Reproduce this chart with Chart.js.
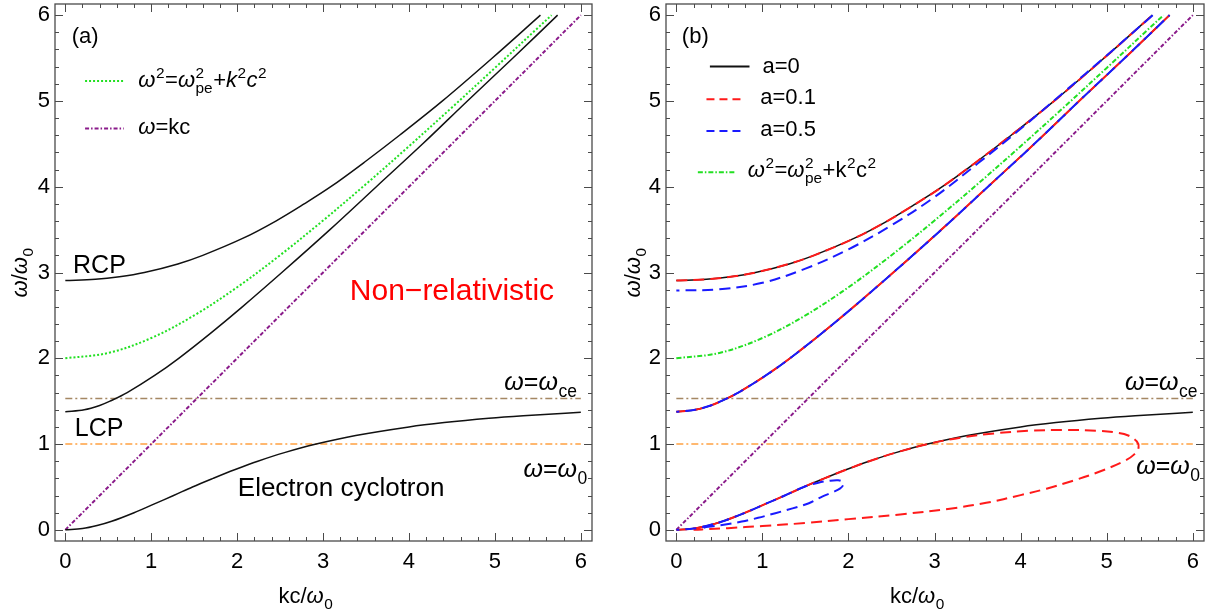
<!DOCTYPE html>
<html>
<head>
<meta charset="utf-8">
<script src="https://cdn.jsdelivr.net/npm/chart.js@4.4.1/dist/chart.umd.min.js"></script>
<style>
html, body { margin: 0; padding: 0; background: #fff; }
#wrap { position: relative; width: 1214px; height: 613px; }
canvas { position: absolute; top: 0; }
#chartA { left: 0; }
#chartB { left: 607px; }
</style>
</head>
<body>
<div id="wrap">
  <canvas id="chartA" width="607" height="613"></canvas>
  <canvas id="chartB" width="607" height="613"></canvas>
</div>
<script>
// tick labels
const xTicks = [0, 1, 2, 3, 4, 5, 6];
const yTicks = [0, 1, 2, 3, 4, 5, 6];

// a = 0 (non-relativistic) branches: k = kc/w0, w = w/w0
const rcpK = [0, 0.35, 0.63, 0.92, 1.31, 1.6, 2.07, 2.45, 2.78, 3.09, 3.5, 3.89, 4.39, 4.97, 5.53];
const rcpW = [2.906, 2.92, 2.95, 3.0, 3.1, 3.2, 3.4, 3.6, 3.8, 4.0, 4.3, 4.6, 5.0, 5.5, 6.0];
const lcpK = [0, 0.22, 0.4, 0.52, 0.72, 1.04, 1.32, 1.7, 2.06, 2.52, 3.08, 3.62, 4.16, 4.68, 5.21, 5.73];
const lcpW = [1.376, 1.4, 1.45, 1.5, 1.6, 1.8, 2.0, 2.3, 2.6, 3.0, 3.5, 4.0, 4.5, 5.0, 5.5, 6.0];
const ecK = [0, 0.2, 0.37, 0.54, 0.8, 1.03, 1.26, 1.48, 1.72, 1.97, 2.24, 2.55, 2.92, 3.38, 4.0, 4.41, 4.93, 5.33, 5.82, 6.0];
const ecW = [0, 0.015, 0.05, 0.1, 0.2, 0.3, 0.4, 0.5, 0.6, 0.7, 0.8, 0.9, 1.0, 1.1, 1.2, 1.25, 1.3, 1.33, 1.36, 1.37];

// w^2 = wpe^2 + k^2c^2
const vacK = [0, 0.5, 1, 1.5, 2, 2.5, 3, 3.5, 4, 4.5, 5, 5.5, 5.66];
const vacW = [2, 2.062, 2.236, 2.5, 2.828, 3.202, 3.606, 4.031, 4.472, 4.924, 5.385, 5.852, 6];

// w = kc
const lightK = [0, 6];
const lightW = [0, 6];

// w = wce and w = w0
const hK = [0, 6];
const wceW = [1.53, 1.53];
const w0W = [1, 1];

// a = 0.1 whistler loop
const red1K = [0, 0.2, 0.37, 0.54, 0.8, 1.03, 1.26, 1.48, 1.72, 1.97, 2.24, 2.55, 2.92, 3.3, 3.7, 4.1, 4.5, 4.9, 5.1, 5.25, 5.35, 5.37, 5.32, 5.2, 4.92, 4.6, 4.3, 4.0, 3.6, 3.2, 2.6, 2.0, 1.5, 1.0, 0.6, 0.3, 0.2];
const red1W = [0, 0.015, 0.05, 0.1, 0.2, 0.3, 0.4, 0.5, 0.6, 0.7, 0.8, 0.9, 1.0, 1.075, 1.125, 1.155, 1.165, 1.155, 1.135, 1.1, 1.03, 0.96, 0.88, 0.8, 0.68, 0.57, 0.48, 0.405, 0.315, 0.25, 0.18, 0.125, 0.08, 0.045, 0.02, 0.005, 0];

// a = 0.5 branches
const blueRK = [0, 0.5, 1, 1.5, 2, 2.5, 3, 3.5, 4, 4.5, 5, 5.535];
const blueRW = [2.79, 2.805, 2.88, 3.045, 3.27, 3.55, 3.88, 4.27, 4.675, 5.1, 5.53, 6.0];
const blue1K = [0, 0.2, 0.37, 0.54, 0.8, 1.03, 1.26, 1.48, 1.65, 1.78, 1.88, 1.93, 1.94, 1.9, 1.82, 1.7, 1.54, 1.35, 1.15, 0.95, 0.76, 0.55, 0.37, 0.27];
const blue1W = [0, 0.015, 0.05, 0.1, 0.2, 0.3, 0.4, 0.5, 0.55, 0.572, 0.578, 0.56, 0.525, 0.48, 0.44, 0.39, 0.31, 0.25, 0.194, 0.14, 0.097, 0.06, 0.035, 0.015];

const FONT = '"Liberation Sans", Arial, sans-serif';
const BLACK = '#111111', RED = '#ff1a1a', BLUE = '#1a1aff', GREEN = '#22e022',
      PURPLE = '#8a1a8a', BROWN = '#a58763', ORANGE = '#ffa142';

function pts(ks, ws) {
    return ks.map((k, i) => ({ x: k, y: ws[i] }));
}

function curve(ks, ws, color, width, dash, tension, offset) {
    return {
        data: pts(ks, ws),
        showLine: true,
        borderColor: color,
        borderWidth: width,
        borderDash: dash,
        borderDashOffset: offset || 0,
        tension: tension,
        pointRadius: 0,
        fill: false
    };
}

// text with italic / superscript / subscript pieces
function partWidth(ctx, p, size) {
    const small = size * 0.7;
    if (p[1] === '^_') {
        ctx.font = small + 'px ' + FONT;
        return Math.max(ctx.measureText(p[0][0]).width, ctx.measureText(p[0][1]).width) + 1;
    }
    if (p[1] === '^' || p[1] === '_') {
        ctx.font = small + 'px ' + FONT;
        return ctx.measureText(p[0]).width + 1;
    }
    ctx.font = (p[1] === 'i' ? 'italic ' : '') + size + 'px ' + FONT;
    return ctx.measureText(p[0]).width;
}

function drawRich(ctx, parts, x, y, size, align, color) {
    const total = parts.reduce((s, p) => s + partWidth(ctx, p, size), 0);
    let cx = align === 'center' ? x - total / 2 : align === 'right' ? x - total : x;
    ctx.save();
    ctx.fillStyle = color || '#000';
    ctx.textAlign = 'left';
    ctx.textBaseline = 'alphabetic';
    parts.forEach(p => {
        const w = partWidth(ctx, p, size);
        if (p[1] === '^_') {
            ctx.fillText(p[0][0], cx + 0.5, y - size * 0.42);
            ctx.fillText(p[0][1], cx + 0.5, y + size * 0.28);
        } else if (p[1] === '^') {
            ctx.fillText(p[0], cx + 0.5, y - size * 0.42);
        } else if (p[1] === '_') {
            ctx.fillText(p[0], cx + 0.5, y + size * 0.28);
        } else {
            ctx.fillText(p[0], cx, y);
        }
        cx += w;
    });
    ctx.restore();
}

const eqA = [['ω', 'i'], ['2', '^'], ['=', ''], ['ω', 'i'], [['2', 'pe'], '^_'], ['+', ''], ['k', 'i'], ['2', '^'], ['c', 'i'], ['2', '^']];
const eqB = [['ω', 'i'], ['2', '^'], ['=', ''], ['ω', 'i'], [['2', 'pe'], '^_'], ['+k', ''], ['2', '^'], ['c', ''], ['2', '^']];
const eqKc = [['ω', 'i'], ['=kc', '']];
const eqCe = [['ω', 'i'], ['=', ''], ['ω', 'i'], ['ce', '_']];
const eq0 = [['ω', 'i'], ['=', ''], ['ω', 'i'], ['0', '_']];
const yTitle = [['ω', 'i'], ['/', ''], ['ω', 'i'], ['0', '_']];
const xTitle = [['kc/', ''], ['ω', 'i'], ['0', '_']];

function makeDecor(cfg) {
    return {
        id: 'decor',
        afterDatasetsDraw(chart) {
            const ctx = chart.ctx, a = chart.chartArea;
            const xs = chart.scales.x, ys = chart.scales.y;
            ctx.save();
            // frame
            ctx.setLineDash([]);
            ctx.strokeStyle = '#4a4a4a';
            ctx.lineWidth = 1.3;
            ctx.strokeRect(a.left, a.top, a.right - a.left, a.bottom - a.top);
            // inward ticks on all sides, minor every 0.2
            ctx.lineWidth = 1;
            ctx.beginPath();
            for (let i = 0; i <= 30; i++) {
                const v = i / 5, len = i % 5 === 0 ? 8 : 4;
                const px = Math.round(xs.getPixelForValue(v)) + 0.5;
                const py = Math.round(ys.getPixelForValue(v)) + 0.5;
                ctx.moveTo(px, a.bottom); ctx.lineTo(px, a.bottom - len);
                ctx.moveTo(px, a.top); ctx.lineTo(px, a.top + len);
                ctx.moveTo(a.left, py); ctx.lineTo(a.left + len, py);
                ctx.moveTo(a.right, py); ctx.lineTo(a.right - len, py);
            }
            ctx.stroke();

            // legend
            cfg.legend.forEach(l => {
                const y = ys.getPixelForValue(l.w);
                ctx.beginPath();
                ctx.strokeStyle = l.color;
                ctx.lineWidth = 2;
                ctx.setLineDash(l.dash);
                ctx.moveTo(xs.getPixelForValue(l.k0), y);
                ctx.lineTo(xs.getPixelForValue(l.k1), y);
                ctx.stroke();
                ctx.setLineDash([]);
                drawRich(ctx, l.parts, xs.getPixelForValue(l.tk), ys.getPixelForValue(l.tw), 22, 'left', '#000');
            });

            // labels
            cfg.labels.forEach(t => {
                drawRich(ctx, t.parts, xs.getPixelForValue(t.k), ys.getPixelForValue(t.w), t.size, t.align || 'left', t.color);
            });

            // axis titles
            drawRich(ctx, xTitle, xs.getPixelForValue(2.8), a.bottom + 62, 22, 'center', '#000');
            ctx.translate(a.left - cfg.yTitleOff, ys.getPixelForValue(3.0));
            ctx.rotate(-Math.PI / 2);
            drawRich(ctx, yTitle, 0, 0, 22, 'center', '#000');
            ctx.restore();
        }
    };
}

function makeChart(id, datasets, decor, yAxisW, padRight) {
    datasets.forEach((d, i) => { d.order = -i; });
    return new Chart(document.getElementById(id), {
        type: 'scatter',
        data: { datasets: datasets },
        options: {
            responsive: false,
            animation: false,
            layout: { padding: { top: 4, right: padRight, left: 0, bottom: 0 } },
            plugins: { legend: { display: false }, tooltip: { enabled: false } },
            scales: {
                x: {
                    type: 'linear', min: -0.12, max: 6.13,
                    grid: { display: false, drawTicks: false },
                    border: { display: false },
                    ticks: { padding: 8, color: '#000', font: { family: FONT, size: 22 }, maxRotation: 0, autoSkip: false },
                    afterBuildTicks: s => { s.ticks = xTicks.map(v => ({ value: v })); },
                    afterFit: s => { s.height = 72; s.paddingLeft = 0; s.paddingRight = 0; }
                },
                y: {
                    type: 'linear', min: -0.13, max: 6.13,
                    grid: { display: false, drawTicks: false },
                    border: { display: false },
                    ticks: { padding: 5, color: '#000', font: { family: FONT, size: 22 }, autoSkip: false },
                    afterBuildTicks: s => { s.ticks = yTicks.map(v => ({ value: v })); },
                    afterFit: s => { s.width = yAxisW; s.paddingTop = 0; s.paddingBottom = 0; }
                }
            }
        },
        plugins: [makeDecor(decor)]
    });
}

// panel (a)
makeChart('chartA', [
    curve(hK, wceW, BROWN, 1.5, [7, 3, 2, 3], 0),
    curve(hK, w0W, ORANGE, 1.5, [7, 3, 2, 3], 0),
    curve(lightK, lightW, PURPLE, 2, [4, 2, 1.5, 2], 0),
    curve(vacK, vacW, GREEN, 2, [2, 2], 0.35),
    curve(ecK, ecW, BLACK, 1.5, [], 0.35),
    curve(lcpK, lcpW, BLACK, 1.5, [], 0.35),
    curve(rcpK, rcpW, BLACK, 1.5, [], 0.35)
], {
    yTitleOff: 28,
    legend: [
        { k0: 0.23, k1: 0.68, w: 5.233, color: GREEN, dash: [2, 2], tk: 0.85, tw: 5.16, parts: eqA },
        { k0: 0.23, k1: 0.68, w: 4.68, color: PURPLE, dash: [4, 2, 1.5, 2], tk: 0.85, tw: 4.61, parts: eqKc }
    ],
    labels: [
        { parts: [['(a)', '']], k: 0.23, w: 5.68, size: 22, align: 'center' },
        { parts: [['RCP', '']], k: 0.09, w: 2.995, size: 25 },
        { parts: [['LCP', '']], k: 0.11, w: 1.09, size: 25 },
        { parts: [['Electron cyclotron', '']], k: 3.21, w: 0.39, size: 26, align: 'center' },
        { parts: [['Non−relativistic', '']], k: 4.5, w: 2.68, size: 30, align: 'center', color: '#ff0000' },
        { parts: eqCe, k: 5.96, w: 1.63, size: 25, align: 'right' },
        { parts: eq0, k: 6.08, w: 0.62, size: 25, align: 'right' }
    ]
}, 55, 15);

// panel (b)
makeChart('chartB', [
    curve(hK, wceW, BROWN, 1.5, [7, 3, 2, 3], 0),
    curve(hK, w0W, ORANGE, 1.5, [7, 3, 2, 3], 0),
    curve(lightK, lightW, PURPLE, 2, [4, 2, 1.5, 2], 0),
    curve(vacK, vacW, GREEN, 2, [5, 2, 1.5, 2], 0.35),
    curve(ecK, ecW, BLACK, 1.5, [], 0.35),
    curve(lcpK, lcpW, BLACK, 1.5, [], 0.35),
    curve(rcpK, rcpW, BLACK, 1.5, [], 0.35),
    curve(rcpK, rcpW, RED, 2, [11, 6], 0.35, 0),
    curve(lcpK, lcpW, RED, 2, [11, 6], 0.35, 0),
    curve(red1K, red1W, RED, 2, [11, 6], 0.35, 0),
    curve(blueRK, blueRW, BLUE, 2, [11, 6], 0.35, 8),
    curve(lcpK, lcpW, BLUE, 2, [11, 6], 0.35, 8),
    curve(blue1K, blue1W, BLUE, 2, [11, 6], 0.35, 8)
], {
    yTitleOff: 26,
    legend: [
        { k0: 0.39, k1: 0.85, w: 5.40, color: BLACK, dash: [], tk: 1.0, tw: 5.33, parts: [['a=0', '']] },
        { k0: 0.35, k1: 0.77, w: 5.02, color: RED, dash: [8, 5], tk: 0.975, tw: 4.96, parts: [['a=0.1', '']] },
        { k0: 0.35, k1: 0.77, w: 4.65, color: BLUE, dash: [8, 5], tk: 0.975, tw: 4.59, parts: [['a=0.5', '']] },
        { k0: 0.25, k1: 0.68, w: 4.17, color: GREEN, dash: [5, 2, 1.5, 2], tk: 0.83, tw: 4.11, parts: eqB }
    ],
    labels: [
        { parts: [['(b)', '']], k: 0.22, w: 5.68, size: 22, align: 'center' },
        { parts: eqCe, k: 6.06, w: 1.63, size: 25, align: 'right' },
        { parts: eq0, k: 6.09, w: 0.65, size: 25, align: 'right' }
    ]
}, 59, 10);
</script>
</body>
</html>
